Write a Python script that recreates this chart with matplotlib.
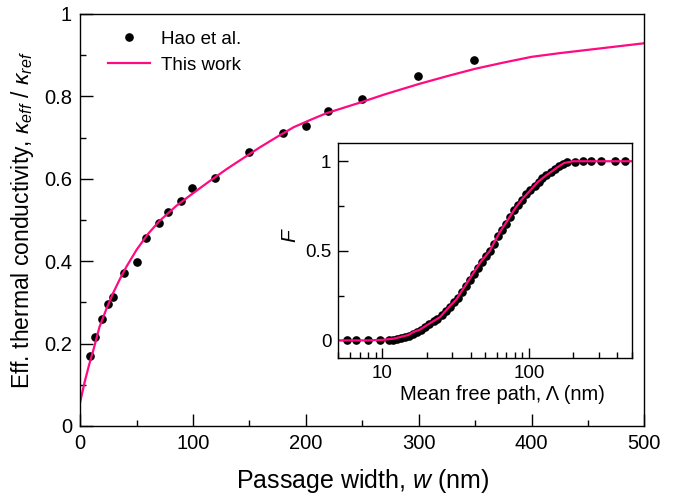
import matplotlib
matplotlib.use('Agg')
import matplotlib.pyplot as plt
from matplotlib.ticker import MultipleLocator, LogLocator, NullFormatter, FuncFormatter

plt.rcParams['font.family'] = ['Liberation Sans', 'DejaVu Sans']
plt.rcParams['mathtext.fontset'] = 'custom'
plt.rcParams['mathtext.rm'] = 'Liberation Sans'
plt.rcParams['mathtext.it'] = 'Liberation Sans:italic'

PINK = '#ff0a80'

# main plot: Hao et al. points
hao_w = [9, 13, 19, 25, 29, 39, 50, 58, 70, 78, 89, 99, 119, 150, 180, 200, 220, 250, 299, 349]
hao_k = [0.169, 0.216, 0.260, 0.296, 0.314, 0.371, 0.397, 0.457, 0.492, 0.520, 0.545, 0.578,
         0.602, 0.664, 0.710, 0.729, 0.764, 0.793, 0.849, 0.889]

# main plot: this work curve
fit_w = [0, 4, 8, 12, 17, 23, 29, 35, 41, 50, 60, 70, 85, 100, 115, 130, 145, 159, 174,
         189, 204, 218, 233, 248, 270, 300, 325, 350, 375, 400, 425, 450, 475, 500]
fit_k = [0.059, 0.108, 0.150, 0.188, 0.240, 0.283, 0.322, 0.356, 0.387, 0.428, 0.466, 0.497,
         0.534, 0.565, 0.595, 0.624, 0.651, 0.676, 0.701, 0.725, 0.743, 0.759, 0.772, 0.785,
         0.805, 0.830, 0.849, 0.867, 0.882, 0.896, 0.905, 0.913, 0.921, 0.929]

# inset: accumulation function F vs mean free path
hao_mfp = [5.7, 6.6, 8.0, 9.6, 11.1, 11.8, 12.6, 13.4, 14.3, 15.2, 16.2, 17.3, 18.4, 19.6,
           20.9, 22.3, 23.7, 25.3, 27.0, 28.7, 30.6, 32.6, 34.7, 37.0, 39.4, 42.0, 44.7,
           47.6, 50.8, 54.1, 57.6, 61.4, 65.4, 69.7, 74.3, 79.1, 84.3, 89.8, 95.7, 102,
           109, 116, 123, 131, 140, 149, 159, 169, 181, 204, 233, 265, 310, 382, 448]
hao_F = [0.0, 0.0, 0.0, 0.0, 0.002, 0.004, 0.007, 0.011, 0.017, 0.026, 0.036, 0.049, 0.060,
         0.075, 0.090, 0.106, 0.121, 0.140, 0.166, 0.188, 0.214, 0.238, 0.268, 0.303, 0.336,
         0.372, 0.404, 0.436, 0.472, 0.500, 0.540, 0.582, 0.614, 0.650, 0.690, 0.726, 0.758,
         0.786, 0.816, 0.842, 0.864, 0.886, 0.906, 0.924, 0.941, 0.958, 0.974, 0.984, 0.993,
         0.998, 1.0, 1.0, 1.0, 1.0, 1.0]

fit_mfp = [5, 8, 10, 12, 13.1, 15, 16.2, 18, 20, 22, 24.7, 28, 32, 37.7, 42, 47, 54, 58,
           63.8, 70, 80, 90, 100, 115, 130, 141, 155, 173, 200, 300, 500]
fit_F = [0.0, 0.0, 0.003, 0.01, 0.018, 0.03, 0.046, 0.06, 0.084, 0.105, 0.13, 0.18, 0.23,
         0.32, 0.38, 0.44, 0.50, 0.55, 0.61, 0.66, 0.735, 0.79, 0.83, 0.885, 0.92, 0.94,
         0.965, 0.99, 1.0, 1.0, 1.0]

fig = plt.figure(figsize=(6.86, 4.98), dpi=100)
ax = fig.add_axes([0.117, 0.1446, 0.8223, 0.8273])

ax.plot(hao_w, hao_k, 'o', color='black', ms=5.2, label='Hao et al.')
ax.plot(fit_w, fit_k, '-', color=PINK, lw=1.6, label='This work')

ax.set_xlim(0, 500)
ax.set_ylim(0, 1)
ax.xaxis.set_major_locator(MultipleLocator(100))
ax.xaxis.set_minor_locator(MultipleLocator(50))
ax.yaxis.set_major_locator(MultipleLocator(0.2))
ax.yaxis.set_minor_locator(MultipleLocator(0.1))
ax.yaxis.set_major_formatter(FuncFormatter(lambda v, p: '%g' % round(v, 2)))
ax.tick_params(which='both', direction='in', top=False, right=False, labelsize=14.5, pad=6)
ax.tick_params(which='major', length=9, width=1)
ax.tick_params(which='minor', length=4.5, width=1)
for s in ax.spines.values():
    s.set_linewidth(1)

ax.set_xlabel('Passage width, $w$ (nm)', fontsize=18, labelpad=10)
ax.set_ylabel(r'Eff. thermal conductivity, $\kappa_{eff}$ / $\kappa_{ref}$', fontsize=16.5, labelpad=6)

ax.legend(loc='upper left', frameon=False, fontsize=13.5, handlelength=2.2,
          handletextpad=0.6, labelspacing=0.45, bbox_to_anchor=(0.02, 1.0))

# inset
ins = fig.add_axes([0.4931, 0.2805, 0.4277, 0.4317])
ins.plot(hao_mfp, hao_F, 'o', color='black', ms=5.2)
ins.plot(fit_mfp, fit_F, '-', color=PINK, lw=1.6)
ins.set_xscale('log')
ins.set_xlim(5, 500)
ins.set_ylim(-0.1, 1.1)
ins.yaxis.set_major_locator(MultipleLocator(0.5))
ins.yaxis.set_minor_locator(MultipleLocator(0.25))
ins.yaxis.set_major_formatter(FuncFormatter(lambda v, p: '%g' % v))
ins.xaxis.set_major_locator(LogLocator(base=10))
ins.xaxis.set_major_formatter(FuncFormatter(lambda v, p: '%g' % v))
ins.xaxis.set_minor_locator(LogLocator(base=10, subs=range(2, 10)))
ins.xaxis.set_minor_formatter(NullFormatter())
ins.tick_params(which='both', direction='in', top=False, right=False, labelsize=13.5, pad=5)
ins.tick_params(which='major', length=7, width=1)
ins.tick_params(which='minor', length=4, width=1)
for s in ins.spines.values():
    s.set_linewidth(1)
ins.set_xlabel('Mean free path, Λ (nm)', fontsize=14.5)
ins.xaxis.set_label_coords(0.558, -0.125)
ins.set_ylabel('$F$', fontsize=15)
ins.yaxis.set_label_coords(-0.13, 0.573)

fig.savefig('out.png', dpi=100)
